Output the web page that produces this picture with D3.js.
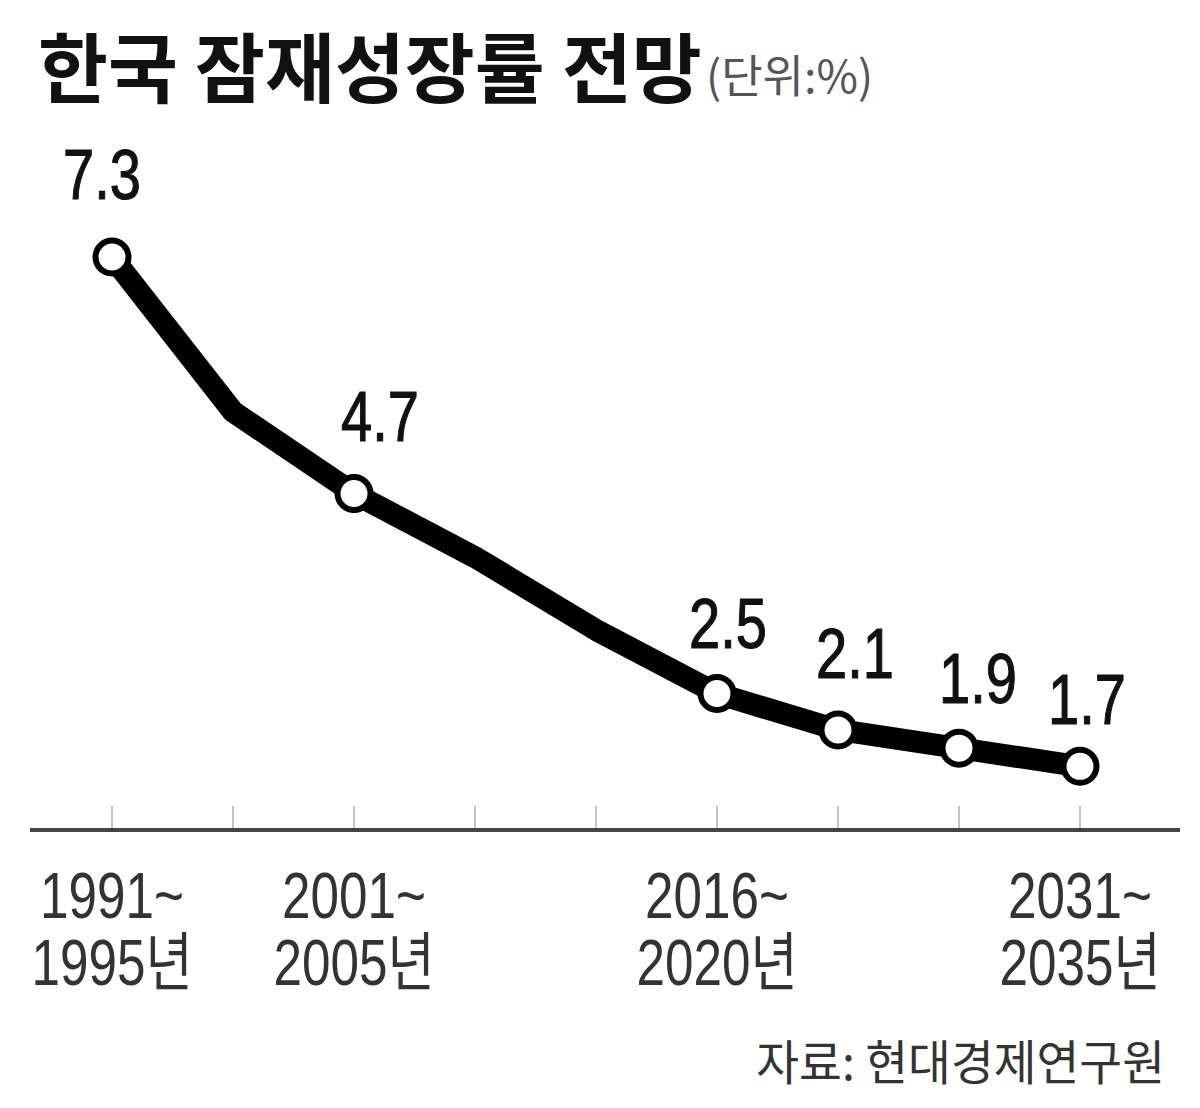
<!DOCTYPE html>
<html>
<head>
<meta charset="utf-8">
<script src="https://cdn.jsdelivr.net/npm/d3@7/dist/d3.min.js"></script>
<style>
  html, body { margin: 0; padding: 0; background: #fff; }
  svg { display: block; }
</style>
</head>
<body>
<svg id="chart" width="1200" height="1108"></svg>
<script>
// ---- data ----
const periodStart = ["1991", "1996", "2001", "2006", "2011", "2016", "2021", "2026", "2031"];
const periodEnd   = ["1995", "2000", "2005", "2010", "2015", "2020", "2025", "2030", "2035"];
const growth      = [7.3, 5.6, 4.7, 4.0, 3.2, 2.5, 2.1, 1.9, 1.7];
const marked      = ["1991", "2001", "2016", "2021", "2026", "2031"];
const axisLabeled = ["1991", "2001", "2016", "2031"];
const titleText   = "한국 잠재성장률 전망";
const unitText    = "(단위:%)";
const sourceText  = "자료: 현대경제연구원";

// ---- layout (label nudges for the marked points, in px) ----
const labelDx = [-10, 26, 11, 17, 19, 7];
const labelDy = [-58, -52, -46, -52, -45, -42];

const svg = d3.select("#chart");

const x = d3.scalePoint().domain(periodStart).range([112, 1080]).padding(0);
const y = d3.scaleLinear().domain([1, 7.3]).range([830, 257]);

const data = periodStart.map((p, i) => ({ start: p, end: periodEnd[i], v: growth[i] }));

function condensed(g, tx, ty, sx) {
  return g.append("text").attr("transform", `translate(${tx},${ty}) scale(${sx},1)`);
}

// title
condensed(svg, 38, 97, 1.0)
  .attr("font-family", "'Noto Sans CJK KR', sans-serif")
  .attr("font-weight", 700)
  .attr("font-size", 76)
  .attr("fill", "#111")
  .text(titleText);

condensed(svg, 706, 93, 1.0)
  .attr("font-family", "'Noto Sans CJK KR', sans-serif")
  .attr("font-weight", 400)
  .attr("font-size", 45)
  .attr("fill", "#555")
  .text(unitText);

// ticks
const axisY = 830;
svg.append("g").selectAll("line.tick")
  .data(periodStart)
  .join("line")
  .attr("x1", d => x(d)).attr("x2", d => x(d))
  .attr("y1", axisY - 24).attr("y2", axisY)
  .attr("stroke", "#c4c4c4").attr("stroke-width", 2);

// baseline
svg.append("line")
  .attr("x1", 30).attr("x2", 1180)
  .attr("y1", axisY).attr("y2", axisY)
  .attr("stroke", "#444").attr("stroke-width", 4);

// line
const line = d3.line().x(d => x(d.start)).y(d => y(d.v)).curve(d3.curveLinear);
svg.append("path")
  .datum(data)
  .attr("d", line)
  .attr("fill", "none")
  .attr("stroke", "#000")
  .attr("stroke-width", 22)
  .attr("stroke-linejoin", "round")
  .attr("stroke-linecap", "round");

const markedData = data.filter(d => marked.includes(d.start));

// circles
svg.append("g").selectAll("circle")
  .data(markedData)
  .join("circle")
  .attr("cx", d => x(d.start))
  .attr("cy", d => y(d.v))
  .attr("r", 16.5)
  .attr("fill", "#fff")
  .attr("stroke", "#000")
  .attr("stroke-width", 6);

// value labels
const vg = svg.append("g");
markedData.forEach((d, i) => {
  condensed(vg, x(d.start) + labelDx[i], y(d.v) + labelDy[i], 0.8)
    .attr("text-anchor", "middle")
    .attr("font-family", "'Liberation Sans', Arial, sans-serif")
    .attr("font-size", 70)
    .attr("fill", "#111")
    .attr("stroke", "#111")
    .attr("stroke-width", 1.2)
    .text(d.v.toFixed(1));
});

// axis labels
const ag = svg.append("g");
data.filter(d => axisLabeled.includes(d.start)).forEach(d => {
  const cx = x(d.start);
  condensed(ag, cx, 918, 0.8)
    .attr("text-anchor", "middle")
    .attr("font-family", "'Liberation Sans', 'Noto Sans CJK KR', sans-serif")
    .attr("font-size", 64)
    .attr("fill", "#333")
    .text(d.start + "~");
  condensed(ag, cx, 985, 0.8)
    .attr("text-anchor", "middle")
    .attr("font-family", "'Liberation Sans', 'Noto Sans CJK KR', sans-serif")
    .attr("font-size", 64)
    .attr("fill", "#333")
    .text(d.end + "년");
});

// source
condensed(svg, 1165, 1080, 0.97)
  .attr("text-anchor", "end")
  .attr("font-family", "'Noto Sans CJK KR', sans-serif")
  .attr("font-size", 48)
  .attr("fill", "#333")
  .text(sourceText);
</script>
</body>
</html>
